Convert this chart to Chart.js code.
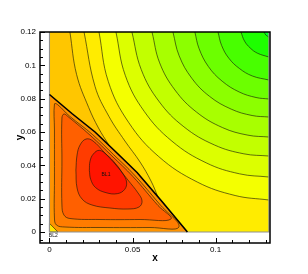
<!DOCTYPE html>
<html>
<head>
<meta charset="utf-8">
<script src="https://cdn.jsdelivr.net/npm/chart.js@4.4.1/dist/chart.umd.min.js"></script>
<style>
html,body{margin:0;padding:0;background:#ffffff;overflow:hidden;}
canvas{display:block;}
</style>
</head>
<body>
<canvas id="chart" width="308" height="274"></canvas>
<script>
// ---------- values ----------
const xTicksMajor = [0, 0.05, 0.1];
const xTickLabels = ['0', '0.05', '0.1'];
const xTicksMinor = [0.01, 0.02, 0.03, 0.04, 0.06, 0.07, 0.08, 0.09, 0.11, 0.12, 0.13];
const yTicksMajor = [0, 0.02, 0.04, 0.06, 0.08, 0.1, 0.12];
const yTickLabels = ['0', '0.02', '0.04', '0.06', '0.08', '0.1', '0.12'];
const yTicksMinor = [-0.005, 0.005, 0.01, 0.015, 0.025, 0.03, 0.035, 0.045, 0.05, 0.055,
                     0.065, 0.07, 0.075, 0.085, 0.09, 0.095, 0.105, 0.11, 0.115];
const xRange = [-0.0057, 0.1327];
const yRange = [-0.0066, 0.12];
const domainX = [0, 0.132];
const domainY = [0, 0.12];

// outer contour lines (from top edge toward right edge / the shock line)
const L1  = [[0.1291,0.12],[0.1302,0.1182],[0.132,0.1170]];
const L2  = [[0.1152,0.12],[0.1174,0.1145],[0.1208,0.1104],[0.1251,0.1073],[0.132,0.1050]];
const L3  = [[0.1014,0.12],[0.1036,0.1119],[0.1079,0.1043],[0.1143,0.0981],[0.1221,0.0936],[0.132,0.0912]];
const L4  = [[0.0875,0.12],[0.0900,0.1101],[0.0956,0.0993],[0.1039,0.0905],[0.1142,0.0840],[0.1243,0.0807],[0.132,0.0798]];
const L5  = [[0.0743,0.12],[0.0780,0.1058],[0.0856,0.0923],[0.0963,0.0814],[0.1094,0.0737],[0.1219,0.0699],[0.132,0.0690]];
const L6  = [[0.0617,0.12],[0.0663,0.1015],[0.0755,0.0852],[0.0884,0.0720],[0.1042,0.0626],[0.1194,0.0581],[0.132,0.0570]];
const L7  = [[0.0496,0.12],[0.0552,0.0975],[0.0658,0.0785],[0.0809,0.0631],[0.0993,0.0522],[0.1170,0.0469],[0.132,0.0456]];
const L8  = [[0.0400,0.12],[0.0456,0.0940],[0.0570,0.0724],[0.0737,0.0545],[0.0943,0.0415],[0.1144,0.0349],[0.132,0.0330]];
const L9  = [[0.0298,0.12],[0.0354,0.0903],[0.0476,0.0658],[0.0658,0.0452],[0.0889,0.0300],[0.1117,0.0219],[0.132,0.0192]];
const L10 = [[0.0208,0.12],[0.0274,0.0874],[0.0357,0.0695],[0.0454,0.0546],[0.0545,0.0420],[0.0611,0.0306],[0.0653,0.0210]];
const L11 = [[0.0123,0.12],[0.0163,0.0946],[0.0236,0.0747],[0.0295,0.0624],[0.0359,0.0519]];
const outerLines = [L1, L2, L3, L4, L5, L6, L7, L8, L9, L10, L11];

// the discontinuity line
const diagonal = [[0,0.0825],[0.0135,0.0711],[0.0274,0.0600],[0.0400,0.0480],[0.0527,0.0357],[0.0677,0.0183],[0.0830,0]];

// inner closed contours
const C1 = [[0.0030,0.0612],[0.0030,0.0768],[0.0048,0.0765],[0.0120,0.0696],[0.0259,0.0585],[0.0385,0.0465],[0.0511,0.0342],[0.0662,0.0168],[0.0779,0.0030],[0.0605,0.0027],[0.0304,0.0027],[0.0093,0.0030],[0.0042,0.0042],[0.0030,0.0084],[0.0030,0.0312]];
const C2 = [[0.0075,0.0432],[0.0075,0.0684],[0.0087,0.0708],[0.0111,0.0693],[0.0250,0.0576],[0.0376,0.0456],[0.0502,0.0333],[0.0653,0.0159],[0.0731,0.0078],[0.0545,0.0075],[0.0304,0.0075],[0.0123,0.0081],[0.0087,0.0102],[0.0075,0.0162]];
const C3 = [[0.0159,0.0372],[0.0166,0.0462],[0.0184,0.0522],[0.0220,0.0558],[0.0262,0.0546],[0.0328,0.0480],[0.0400,0.0402],[0.0472,0.0312],[0.0533,0.0234],[0.0557,0.0186],[0.0539,0.0150],[0.0472,0.0138],[0.0364,0.0144],[0.0256,0.0162],[0.0196,0.0198],[0.0166,0.0264]];
const C4 = [[0.0240,0.0370],[0.0244,0.0425],[0.0264,0.0468],[0.0300,0.0490],[0.0346,0.0462],[0.0396,0.0412],[0.0440,0.0352],[0.0464,0.0300],[0.0452,0.0255],[0.0408,0.0230],[0.0340,0.0236],[0.0278,0.0266],[0.0248,0.0316]];
const innerLoops = [C1, C2, C3, C4];

// small corner zone
const cornerBL2 = [[0,0.0052],[0,0],[0.0051,0]];

const zoneLabels = ['BL1', 'BL2'];
const zoneLabelX = [0.0340, 0.0023];
const zoneLabelY = [0.0342, -0.0019];

// band colours (flood levels)
const outerColors = ['#00FF2A','#1EFF00','#48FF00','#6CFF00','#8CFF00','#A8FF00','#C2FF00','#DCFF00','#F4FF00','#FFEC00','#FFDA00','#FFC600'];
const innerColors = ['#FF9400','#FF7C00','#FF6000','#FF3C00','#FF1400'];
const cornerColor = '#FFE600';

// ---------- build datasets ----------
const FONT = '"Liberation Sans", Arial, Helvetica, sans-serif';
const TENSION = 0.4;
const toPts = a => a.map(p => ({x: p[0], y: p[1]}));
const sharp = a => a.flatMap(p => [p, p]);   // repeated vertex => sharp corner with curve tension
const datasets = [];
function addFill(poly, color, t) {
  datasets.push({data: toPts(poly), fill: 'shape', backgroundColor: color,
    borderColor: 'rgba(0,0,0,0)', borderWidth: 0, pointRadius: 0, tension: t});
}
function addLine(line, color, w, t) {
  datasets.push({data: toPts(line), fill: false, borderColor: color, borderWidth: w,
    pointRadius: 0, tension: t});
}
const X0 = domainX[0], X1 = domainX[1], Y0 = domainY[0], Y1 = domainY[1];
addFill([[X0,Y0],[X1,Y0],[X1,Y1],[X0,Y1]], outerColors[0], 0);
outerLines.forEach((ln, i) => {
  const last = ln[ln.length - 1];
  const tail = last[0] >= X1 ? [[X1, Y0]] : diagonal.filter(p => p[1] < last[1]);
  addFill([...ln, last, ...sharp([...tail, [X0, Y0], [X0, Y1]])], outerColors[i + 1], TENSION);
});
addFill([...diagonal, [X0, Y0]], innerColors[0], 0);
innerLoops.forEach((c, i) => addFill([...c, c[0]], innerColors[i + 1], TENSION));
addFill(cornerBL2, cornerColor, 0);

const lineCol = 'rgba(25,25,10,0.78)';
outerLines.forEach(ln => addLine(ln, lineCol, 0.8, TENSION));
innerLoops.forEach(c => addLine([...c, c[0]], lineCol, 0.8, TENSION));
addLine([...cornerBL2, cornerBL2[0]], lineCol, 0.8, 0);
addLine([[X0,Y1],[X0,Y0],[X1,Y0],[X1,Y1]], '#8f8f8f', 1.1, 0);
addLine(diagonal, '#000000', 1.6, 0);
datasets.forEach((d, i) => { d.order = datasets.length - i; });

// ---------- decorations: inward ticks, frame, zone labels ----------
const decor = {
  id: 'decor',
  afterDraw(chart) {
    const {ctx, chartArea: a, scales: {x, y}} = chart;
    ctx.save();
    ctx.fillStyle = '#111';
    ctx.font = '5px ' + FONT;
    ctx.textAlign = 'center';
    ctx.textBaseline = 'middle';
    zoneLabels.forEach((t, i) => {
      ctx.fillText(t, x.getPixelForValue(zoneLabelX[i]), y.getPixelForValue(zoneLabelY[i]));
    });
    ctx.strokeStyle = '#000';
    ctx.lineWidth = 1;
    ctx.beginPath();
    const vt = (v, len) => { const p = Math.round(x.getPixelForValue(v)) + 0.5; ctx.moveTo(p, a.bottom); ctx.lineTo(p, a.bottom - len); };
    const ht = (v, len) => { const p = Math.round(y.getPixelForValue(v)) + 0.5; ctx.moveTo(a.left, p); ctx.lineTo(a.left + len, p); };
    xTicksMajor.forEach(v => vt(v, 5));
    xTicksMinor.forEach(v => vt(v, 3));
    yTicksMajor.forEach(v => ht(v, 5));
    yTicksMinor.forEach(v => ht(v, 3));
    ctx.stroke();
    ctx.lineWidth = 1.5;
    ctx.strokeRect(a.left, a.top, a.right - a.left, a.bottom - a.top);
    ctx.restore();
  }
};

new Chart(document.getElementById('chart'), {
  type: 'line',
  data: {datasets},
  options: {
    responsive: false,
    devicePixelRatio: 1,
    animation: false,
    events: [],
    layout: {padding: {left: 14, top: 32, right: 38, bottom: 0}},
    plugins: {legend: {display: false}, tooltip: {enabled: false}},
    scales: {
      x: {
        type: 'linear', position: 'bottom', min: xRange[0], max: xRange[1], bounds: 'data',
        grid: {display: false, drawTicks: false}, border: {display: false},
        ticks: {font: {family: FONT, size: 8}, color: '#000', padding: 2, maxRotation: 0, autoSkip: false,
          callback: v => { const i = xTicksMajor.indexOf(v); return i < 0 ? '' : xTickLabels[i]; }},
        afterBuildTicks: s => { s.ticks = xTicksMajor.map(v => ({value: v})); },
        afterFit: s => { s.height = 31; },
        title: {display: true, text: 'x', color: '#000', font: {family: FONT, size: 10, weight: 'bold'}, padding: {top: 0, bottom: 10}}
      },
      y: {
        type: 'linear', position: 'left', min: yRange[0], max: yRange[1], bounds: 'data',
        grid: {display: false, drawTicks: false}, border: {display: false},
        ticks: {font: {family: FONT, size: 8}, color: '#000', padding: 4, autoSkip: false,
          callback: v => { const i = yTicksMajor.indexOf(v); return i < 0 ? '' : yTickLabels[i]; }},
        afterBuildTicks: s => { s.ticks = yTicksMajor.map(v => ({value: v})); },
        afterFit: s => { s.width = 26; },
        title: {display: true, text: 'y', color: '#000', font: {family: FONT, size: 10, weight: 'bold'}, padding: {top: 0, bottom: 0}}
      }
    }
  },
  plugins: [decor]
});
</script>
</body>
</html>
